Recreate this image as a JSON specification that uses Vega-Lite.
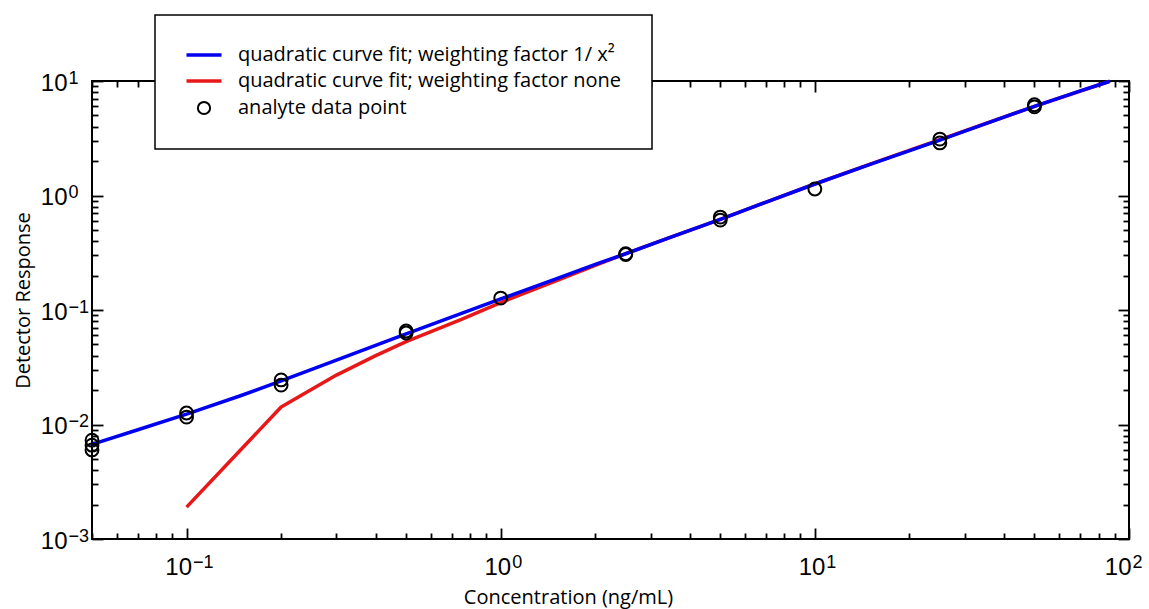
{
  "$schema": "https://vega.github.io/schema/vega-lite/v6.json",
  "width": 1037,
  "height": 458,
  "autosize": {"type": "none"},
  "padding": {"left": 92, "top": 81, "right": 20, "bottom": 70},
  "background": "white",
  "config": {
    "view": {"stroke": "black", "strokeWidth": 2},
    "axis": {
      "grid": false,
      "domain": false,
      "tickColor": "black",
      "tickWidth": 1.8,
      "labelColor": "black",
      "titleColor": "black",
      "labelFont": "Liberation Sans",
      "labelFontSize": 24,
      "titleFont": "Open Sans",
      "titleFontSize": 20,
      "titleFontWeight": "normal",
      "labelOverlap": false,
      "labelFlush": false,
      "labelBound": false
    },
    "legend": {
      "orient": "none",
      "legendX": 63,
      "legendY": -66,
      "padding": 30,
      "fillColor": "white",
      "strokeColor": "black",
      "strokeWidth": 1.5,
      "labelFont": "Open Sans",
      "labelFontSize": 20,
      "labelColor": "black",
      "labelOffset": 24,
      "symbolOffset": 9,
      "labelLimit": 700,
      "rowPadding": 6,
      "symbolSize": 1225,
      "symbolStrokeWidth": 3.5
    }
  },
  "data": {
    "values": [
      {"series": "quadratic curve fit; weighting factor none", "conc": 0.1, "resp": 0.0019},
      {"series": "quadratic curve fit; weighting factor none", "conc": 0.2, "resp": 0.0142},
      {"series": "quadratic curve fit; weighting factor none", "conc": 0.3, "resp": 0.027},
      {"series": "quadratic curve fit; weighting factor none", "conc": 0.4, "resp": 0.040},
      {"series": "quadratic curve fit; weighting factor none", "conc": 0.5, "resp": 0.053},
      {"series": "quadratic curve fit; weighting factor none", "conc": 0.75, "resp": 0.083},
      {"series": "quadratic curve fit; weighting factor none", "conc": 1, "resp": 0.116},
      {"series": "quadratic curve fit; weighting factor none", "conc": 1.5, "resp": 0.18},
      {"series": "quadratic curve fit; weighting factor none", "conc": 2, "resp": 0.245},
      {"series": "quadratic curve fit; weighting factor none", "conc": 2.5, "resp": 0.31},
      {"series": "quadratic curve fit; weighting factor none", "conc": 3.5, "resp": 0.435},
      {"series": "quadratic curve fit; weighting factor none", "conc": 5, "resp": 0.62},
      {"series": "quadratic curve fit; weighting factor none", "conc": 7, "resp": 0.875},
      {"series": "quadratic curve fit; weighting factor none", "conc": 10, "resp": 1.26},
      {"series": "quadratic curve fit; weighting factor none", "conc": 15, "resp": 1.88},
      {"series": "quadratic curve fit; weighting factor none", "conc": 25, "resp": 3.07},
      {"series": "quadratic curve fit; weighting factor none", "conc": 50, "resp": 6.0},
      {"series": "quadratic curve fit; weighting factor none", "conc": 86, "resp": 9.85},

      {"series": "quadratic curve fit; weighting factor 1/ x²", "conc": 0.05, "resp": 0.0067},
      {"series": "quadratic curve fit; weighting factor 1/ x²", "conc": 0.07, "resp": 0.0090},
      {"series": "quadratic curve fit; weighting factor 1/ x²", "conc": 0.1, "resp": 0.0123},
      {"series": "quadratic curve fit; weighting factor 1/ x²", "conc": 0.15, "resp": 0.0180},
      {"series": "quadratic curve fit; weighting factor 1/ x²", "conc": 0.2, "resp": 0.0240},
      {"series": "quadratic curve fit; weighting factor 1/ x²", "conc": 0.3, "resp": 0.0365},
      {"series": "quadratic curve fit; weighting factor 1/ x²", "conc": 0.5, "resp": 0.062},
      {"series": "quadratic curve fit; weighting factor 1/ x²", "conc": 0.7, "resp": 0.087},
      {"series": "quadratic curve fit; weighting factor 1/ x²", "conc": 1, "resp": 0.125},
      {"series": "quadratic curve fit; weighting factor 1/ x²", "conc": 1.5, "resp": 0.187},
      {"series": "quadratic curve fit; weighting factor 1/ x²", "conc": 2, "resp": 0.25},
      {"series": "quadratic curve fit; weighting factor 1/ x²", "conc": 2.5, "resp": 0.31},
      {"series": "quadratic curve fit; weighting factor 1/ x²", "conc": 3.5, "resp": 0.435},
      {"series": "quadratic curve fit; weighting factor 1/ x²", "conc": 5, "resp": 0.62},
      {"series": "quadratic curve fit; weighting factor 1/ x²", "conc": 7, "resp": 0.875},
      {"series": "quadratic curve fit; weighting factor 1/ x²", "conc": 10, "resp": 1.26},
      {"series": "quadratic curve fit; weighting factor 1/ x²", "conc": 15, "resp": 1.87},
      {"series": "quadratic curve fit; weighting factor 1/ x²", "conc": 25, "resp": 3.05},
      {"series": "quadratic curve fit; weighting factor 1/ x²", "conc": 35, "resp": 4.25},
      {"series": "quadratic curve fit; weighting factor 1/ x²", "conc": 50, "resp": 6.0},
      {"series": "quadratic curve fit; weighting factor 1/ x²", "conc": 70, "resp": 8.2},
      {"series": "quadratic curve fit; weighting factor 1/ x²", "conc": 87, "resp": 9.95},

      {"series": "analyte data point", "conc": 0.05, "resp": 0.0073},
      {"series": "analyte data point", "conc": 0.05, "resp": 0.0066},
      {"series": "analyte data point", "conc": 0.05, "resp": 0.0060},
      {"series": "analyte data point", "conc": 0.1, "resp": 0.0126},
      {"series": "analyte data point", "conc": 0.1, "resp": 0.0116},
      {"series": "analyte data point", "conc": 0.2, "resp": 0.0245},
      {"series": "analyte data point", "conc": 0.2, "resp": 0.0221},
      {"series": "analyte data point", "conc": 0.5, "resp": 0.0656},
      {"series": "analyte data point", "conc": 0.5, "resp": 0.063},
      {"series": "analyte data point", "conc": 1, "resp": 0.127},
      {"series": "analyte data point", "conc": 2.5, "resp": 0.31},
      {"series": "analyte data point", "conc": 2.5, "resp": 0.305},
      {"series": "analyte data point", "conc": 5, "resp": 0.648},
      {"series": "analyte data point", "conc": 5, "resp": 0.61},
      {"series": "analyte data point", "conc": 10, "resp": 1.14},
      {"series": "analyte data point", "conc": 25, "resp": 3.11},
      {"series": "analyte data point", "conc": 25, "resp": 2.88},
      {"series": "analyte data point", "conc": 50, "resp": 6.2},
      {"series": "analyte data point", "conc": 50, "resp": 5.95}
    ]
  },
  "layer": [
    {
      "transform": [{"filter": "datum.series == 'quadratic curve fit; weighting factor none'"}],
      "mark": {"type": "line", "strokeWidth": 3.5, "strokeJoin": "round"},
      "encoding": {
        "x": {
          "field": "conc", "type": "quantitative",
          "scale": {"type": "log", "domain": [0.05, 100], "nice": false},
          "axis": {
            "orient": "bottom",
            "values": [0.05,0.06,0.07,0.08,0.09,0.1,0.2,0.3,0.4,0.5,0.6,0.7,0.8,0.9,1,2,3,4,5,6,7,8,9,10,20,30,40,50,60,70,80,90,100],
            "labelExpr": "indexof([0.1,1,10,100], datum.value) >= 0 ? '10' : ''",
            "tickSize": {"condition": {"test": "indexof([0.001,0.01,0.1,1,10,100], datum.value) >= 0", "value": -11}, "value": -6},
            "labelAlign": "right",
            "labelBaseline": "alphabetic",
            "labelPadding": 46,
            "labelOffset": {"condition": [{"test": "datum.value < 0.5", "value": 5}, {"test": "datum.value > 50", "value": 2}], "value": 10},
            "title": "Concentration (ng/mL)",
            "titleX": 476,
            "titleY": 64,
            "titleBaseline": "alphabetic",
            "titleAlign": "center"
          }
        },
        "y": {
          "field": "resp", "type": "quantitative",
          "scale": {"type": "log", "domain": [0.001, 10], "nice": false},
          "axis": {
            "orient": "left",
            "values": [0.001,0.002,0.003,0.004,0.005,0.006,0.007,0.008,0.009,0.01,0.02,0.03,0.04,0.05,0.06,0.07,0.08,0.09,0.1,0.2,0.3,0.4,0.5,0.6,0.7,0.8,0.9,1,2,3,4,5,6,7,8,9,10],
            "labelExpr": "indexof([0.001,0.01,0.1,1,10], datum.value) >= 0 ? '10' : ''",
            "tickSize": {"condition": {"test": "indexof([0.001,0.01,0.1,1,10,100], datum.value) >= 0", "value": -11}, "value": -6},
            "labelAlign": "right",
            "labelBaseline": "alphabetic",
            "labelPadding": 36,
            "labelOffset": 9,
            "title": "Detector Response",
            "titleX": -63,
            "titleY": 219,
            "titleBaseline": "alphabetic",
            "titleAlign": "center",
            "titleAngle": -90
          }
        },
        "color": {
          "field": "series", "type": "nominal",
          "scale": {"domain": ["quadratic curve fit; weighting factor 1/ x²", "quadratic curve fit; weighting factor none", "analyte data point"], "range": ["#0000f0", "#e81818", "#000000"]},
          "legend": {
            "title": null,
            "encoding": {
              "symbols": {
                "shape": {"value": {"expr": "datum.value == 'analyte data point' ? 'circle' : 'stroke'"}},
                "size": {"value": {"expr": "datum.value == 'analyte data point' ? 150 : 1225"}},
                "strokeWidth": {"value": {"expr": "datum.value == 'analyte data point' ? 2 : 3.5"}},
                "fill": {"value": "transparent"}
              }
            }
          }
        }
      }
    },
    {
      "transform": [{"filter": "datum.series == 'quadratic curve fit; weighting factor 1/ x²'"}],
      "mark": {"type": "line", "strokeWidth": 3.5, "strokeJoin": "round"},
      "encoding": {
        "x": {
          "field": "conc", "type": "quantitative",
          "scale": {"type": "log", "domain": [0.05, 100], "nice": false},
          "axis": {
            "orient": "top",
            "values": [0.05,0.06,0.07,0.08,0.09,0.1,0.2,0.3,0.4,0.5,0.6,0.7,0.8,0.9,1,2,3,4,5,6,7,8,9,10,20,30,40,50,60,70,80,90,100],
            "labelExpr": "datum.value == 0.1 ? '−1' : datum.value == 1 ? '0' : datum.value == 10 ? '1' : datum.value == 100 ? '2' : ''",
            "labelFontSize": 18,
            "labelAlign": "left",
            "labelBaseline": "alphabetic",
            "labelPadding": -475,
            "labelOffset": {"condition": [{"test": "datum.value < 0.5", "value": 6}, {"test": "datum.value > 50", "value": 3}], "value": 11},
            "title": null,
            "tickSize": {"condition": {"test": "indexof([0.001,0.01,0.1,1,10,100], datum.value) >= 0", "value": -11}, "value": -6}
          }
        },
        "y": {
          "field": "resp", "type": "quantitative",
          "scale": {"type": "log", "domain": [0.001, 10], "nice": false},
          "axis": {
            "orient": "right",
            "values": [0.001,0.002,0.003,0.004,0.005,0.006,0.007,0.008,0.009,0.01,0.02,0.03,0.04,0.05,0.06,0.07,0.08,0.09,0.1,0.2,0.3,0.4,0.5,0.6,0.7,0.8,0.9,1,2,3,4,5,6,7,8,9,10],
            "labelExpr": "datum.value == 0.001 ? '−3' : datum.value == 0.01 ? '−2' : datum.value == 0.1 ? '−1' : datum.value == 1 ? '0' : datum.value == 10 ? '1' : ''",
            "labelFontSize": 18,
            "labelAlign": "left",
            "labelBaseline": "alphabetic",
            "labelPadding": -1050,
            "labelOffset": 2,
            "title": null,
            "tickSize": {"condition": {"test": "indexof([0.001,0.01,0.1,1,10,100], datum.value) >= 0", "value": -11}, "value": -6}
          }
        },
        "color": {"field": "series", "type": "nominal"}
      }
    },
    {
      "transform": [{"filter": "datum.series == 'analyte data point'"}],
      "mark": {"type": "point", "shape": "circle", "filled": false, "opacity": 1, "size": 165, "strokeWidth": 2},
      "encoding": {
        "x": {"field": "conc", "type": "quantitative", "axis": null},
        "y": {"field": "resp", "type": "quantitative", "axis": null},
        "color": {"field": "series", "type": "nominal"}
      }
    }
  ],
  "resolve": {"axis": {"x": "independent", "y": "independent"}}
}
